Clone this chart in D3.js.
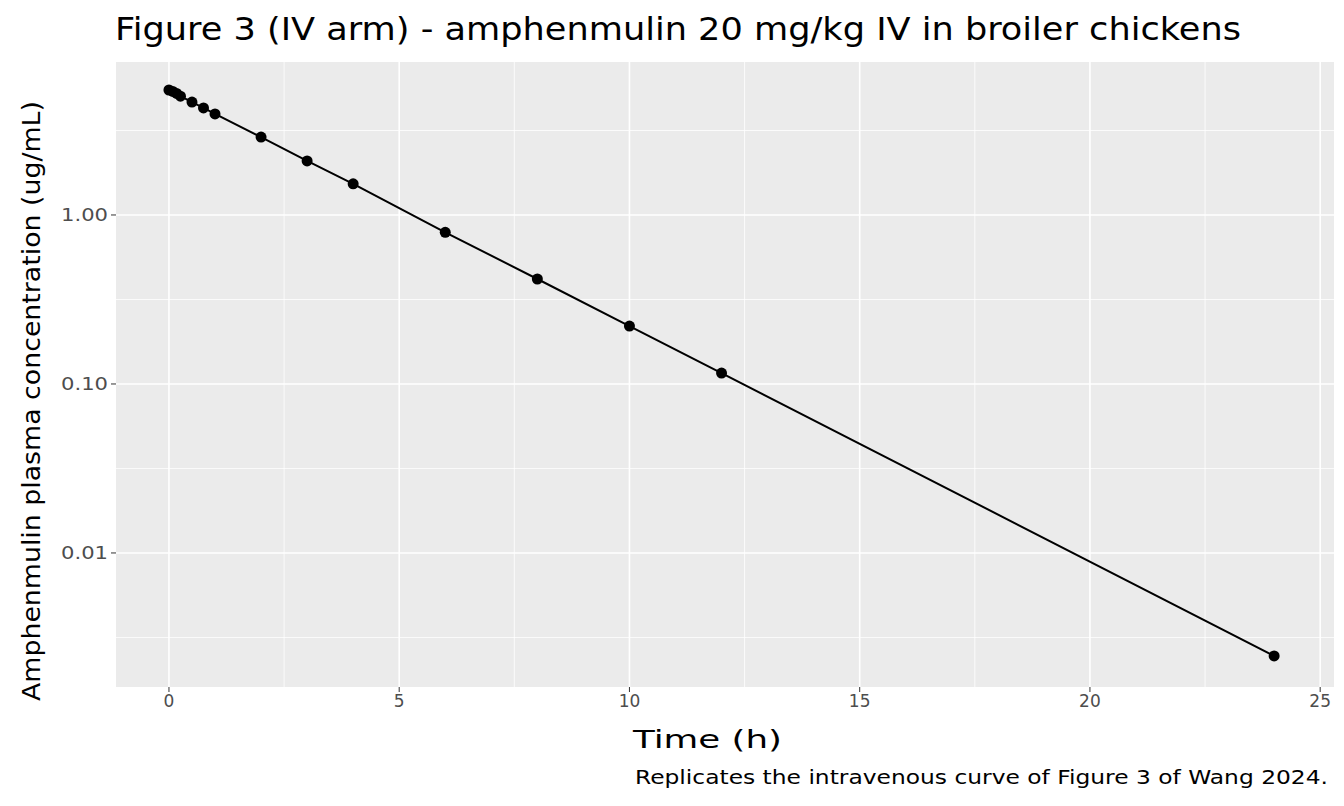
<!DOCTYPE html>
<html><head><meta charset="utf-8">
<script src="https://cdn.jsdelivr.net/npm/d3@7"></script>
<style>body{margin:0;background:#fff}text{font-family:"DejaVu Sans",sans-serif}</style>
</head><body><svg id="c" width="1344" height="806"></svg>
<script>
const times=[0,0.083,0.167,0.25,0.5,0.75,1,2,3,4,6,8,10,12,24];
const conc=[5.49,5.38,5.24,5.05,4.66,4.30,3.96,2.89,2.09,1.53,0.79,0.418,0.220,0.116,0.00246];
const xTicks=[0,5,10,15,20,25];
const yTicks=[0.01,0.1,1];
const yLabels=["0.01","0.10","1.00"];

const svg=d3.select("#c");
const L=116,R=1334,T=62,B=687;
const x=d3.scaleLinear().domain([-1.15,25.3]).range([L,R]);
const y=d3.scaleLog().domain([0.00161,8.04]).range([B,T]);
svg.append("rect").attr("x",L).attr("y",T).attr("width",R-L).attr("height",B-T).attr("fill","#ebebeb");
const g=svg.append("g");
xTicks.slice(0,-1).forEach(t=>g.append("line").attr("x1",x(t+2.5)).attr("x2",x(t+2.5)).attr("y1",T).attr("y2",B).attr("stroke","#fff").attr("stroke-width",0.8));
[0.001,0.01,0.1,1].forEach(t=>{const v=t*Math.sqrt(10);
  g.append("line").attr("x1",L).attr("x2",R).attr("y1",y(v)).attr("y2",y(v)).attr("stroke","#fff").attr("stroke-width",0.8);});
xTicks.forEach(t=>g.append("line").attr("x1",x(t)).attr("x2",x(t)).attr("y1",T).attr("y2",B).attr("stroke","#fff").attr("stroke-width",1.6));
yTicks.forEach(t=>g.append("line").attr("x1",L).attr("x2",R).attr("y1",y(t)).attr("y2",y(t)).attr("stroke","#fff").attr("stroke-width",1.6));
xTicks.forEach(t=>{g.append("line").attr("x1",x(t)).attr("x2",x(t)).attr("y1",B).attr("y2",B+5).attr("stroke","#333");
  g.append("text").attr("x",x(t)).attr("y",B+20).attr("text-anchor","middle").attr("font-size",17).attr("fill","#4d4d4d").text(t);});
yTicks.forEach((t,i)=>{g.append("line").attr("x1",L-5).attr("x2",L).attr("y1",y(t)).attr("y2",y(t)).attr("stroke","#333");
  g.append("text").attr("x",L-8).attr("y",y(t)+6).attr("text-anchor","end").attr("font-size",17).attr("fill","#4d4d4d")
   .attr("textLength",47).attr("lengthAdjust","spacingAndGlyphs").text(yLabels[i]);});
const pts=times.map((t,i)=>[t,conc[i]]);
g.append("path").datum(pts).attr("fill","none").attr("stroke","#000").attr("stroke-width",2)
  .attr("d",d3.line().x(d=>x(d[0])).y(d=>y(d[1])));
g.selectAll("circle").data(pts).join("circle").attr("cx",d=>x(d[0])).attr("cy",d=>y(d[1])).attr("r",5.5).attr("fill","#000");
svg.append("text").attr("x",115).attr("y",40).attr("font-size",32).attr("textLength",1126).attr("lengthAdjust","spacingAndGlyphs")
  .text("Figure 3 (IV arm) - amphenmulin 20 mg/kg IV in broiler chickens");
svg.append("text").attr("x",633).attr("y",748).attr("font-size",25).attr("textLength",149).attr("lengthAdjust","spacingAndGlyphs").text("Time (h)");
svg.append("text").attr("transform","translate(40,701) rotate(-90)").attr("font-size",25).attr("textLength",600).attr("lengthAdjust","spacingAndGlyphs")
  .text("Amphenmulin plasma concentration (ug/mL)");
svg.append("text").attr("x",635).attr("y",784).attr("font-size",19).attr("textLength",693).attr("lengthAdjust","spacingAndGlyphs")
  .text("Replicates the intravenous curve of Figure 3 of Wang 2024.");
</script></body></html>
